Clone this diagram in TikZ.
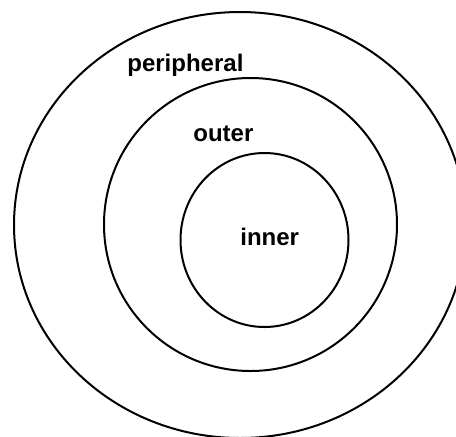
\documentclass[tikz,border=0pt]{standalone}
\usepackage{fontspec}
\setmainfont{Liberation Sans}
\usetikzlibrary{shapes.geometric}

\begin{document}
\begin{tikzpicture}[
    x=0.5pt, y=-0.5pt,
    ring/.style={ellipse, draw, line width=1pt, inner sep=0pt, outer sep=0pt},
    lbl/.style={font=\fontsize{12}{14}\selectfont\bfseries, anchor=base west, inner sep=0pt}
]
% page frame (image in px units)
\useasboundingbox (0,0) rectangle (456,436);
\clip (0,0) rectangle (456,436);
% three nested zones
\node[ring, minimum width=226pt, minimum height=213pt] (peri) at (240,225) {};
\node[ring, minimum width=146.5pt, minimum height=146.5pt] (outer) at (250.5,224.5) {};
\node[ring, minimum width=84pt, minimum height=87pt] (inner) at (264.5,240) {};
% zone labels
\node[lbl] (periLbl) at (127,71) {peripheral};
\node[lbl] (outerLbl) at (193,141) {outer};
\node[lbl] (innerLbl) at (240,245) {inner};
\end{tikzpicture}
\end{document}
